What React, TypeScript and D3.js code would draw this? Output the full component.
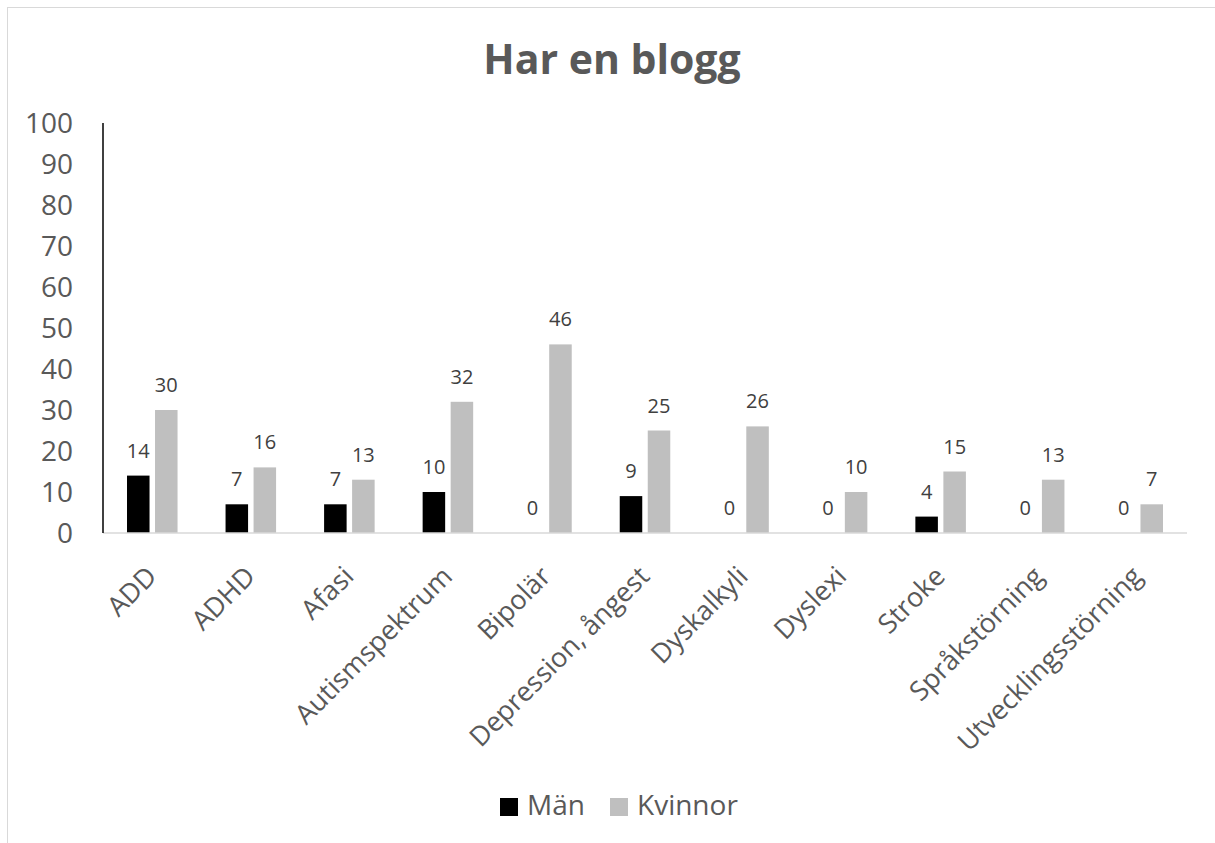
import React from 'react';
import * as d3 from 'd3';

const categories = [
  'ADD', 'ADHD', 'Afasi', 'Autismspektrum', 'Bipolär', 'Depression, ångest',
  'Dyskalkyli', 'Dyslexi', 'Stroke', 'Språkstörning', 'Utvecklingsstörning',
];
const seriesNames = ['Män', 'Kvinnor'];
const manValues = [14, 7, 7, 10, 0, 9, 0, 0, 4, 0, 0];
const kvinnorValues = [30, 16, 13, 32, 46, 25, 26, 10, 15, 13, 7];
const yTicks = [0, 10, 20, 30, 40, 50, 60, 70, 80, 90, 100];
const colors = ['#000000', '#bfbfbf'];

const W = 1215;
const H = 843;
const FONT = '"Open Sans", sans-serif';

export default function App() {
  const x0 = d3.scaleBand<string>().domain(categories).range([103, 1187]).padding(0);
  const x1 = d3.scaleBand<string>()
    .domain(seriesNames)
    .range([0, x0.bandwidth()])
    .paddingInner(0.196)
    .paddingOuter(0.857);
  const y = d3.scaleLinear().domain([0, 100]).range([533, 123]);

  const series = [manValues, kvinnorValues];

  return (
    <svg width={W} height={H} style={{ position: 'absolute', left: 0, top: 0, background: '#fff' }}>
      <rect x={7.5} y={7.5} width={W + 20} height={H + 20} fill="#fff" stroke="#d9d9d9" strokeWidth={1} />

      {/* Title */}
      <text x={612} y={74} textAnchor="middle" fontFamily={FONT} fontWeight="bold" fontSize={41} fill="#595959">
        Har en blogg
      </text>

      {/* Y ticks */}
      {yTicks.map((t) => (
        <text key={t} x={73} y={y(t) + 10} textAnchor="end" fontFamily={FONT} fontSize={28} fill="#595959">
          {t}
        </text>
      ))}

      {/* Bars */}
      {categories.map((c, i) => (
        <g key={c} transform={`translate(${x0(c)},0)`}>
          {seriesNames.map((s, si) => {
            const v = series[si][i];
            const bx = x1(s) || 0;
            const bw = x1.bandwidth();
            return (
              <g key={s}>
                {v > 0 && (
                  <rect x={bx} y={y(v)} width={bw} height={y(0) - y(v)} fill={colors[si]} />
                )}
                <text
                  x={bx + bw / 2}
                  y={y(v) - 18}
                  textAnchor="middle"
                  fontFamily={FONT}
                  fontSize={20}
                  fill="#404040"
                >
                  {v}
                </text>
              </g>
            );
          })}
        </g>
      ))}

      {/* Axes */}
      <line x1={103} x2={1187} y1={y(0)} y2={y(0)} stroke="#d9d9d9" strokeWidth={1.5} />
      <line x1={103} x2={103} y1={y(100)} y2={y(0)} stroke="#000" strokeWidth={1.5} />

      {/* Category labels */}
      {categories.map((c) => {
        const cx = (x0(c) || 0) + x0.bandwidth() / 2 + 6;
        const cy = 578;
        return (
          <text
            key={c}
            x={cx}
            y={cy}
            textAnchor="end"
            transform={`rotate(-45, ${cx}, ${cy})`}
            fontFamily={FONT}
            fontSize={27}
            fill="#595959"
          >
            {c}
          </text>
        );
      })}

      {/* Legend */}
      {seriesNames.map((s, si) => {
        const lx = si === 0 ? 500 : 610;
        return (
          <g key={s}>
            <rect x={lx} y={798} width={18} height={18} fill={colors[si]} />
            <text x={lx + 27} y={815} fontFamily={FONT} fontSize={28} fill="#595959">
              {s}
            </text>
          </g>
        );
      })}
    </svg>
  );
}
